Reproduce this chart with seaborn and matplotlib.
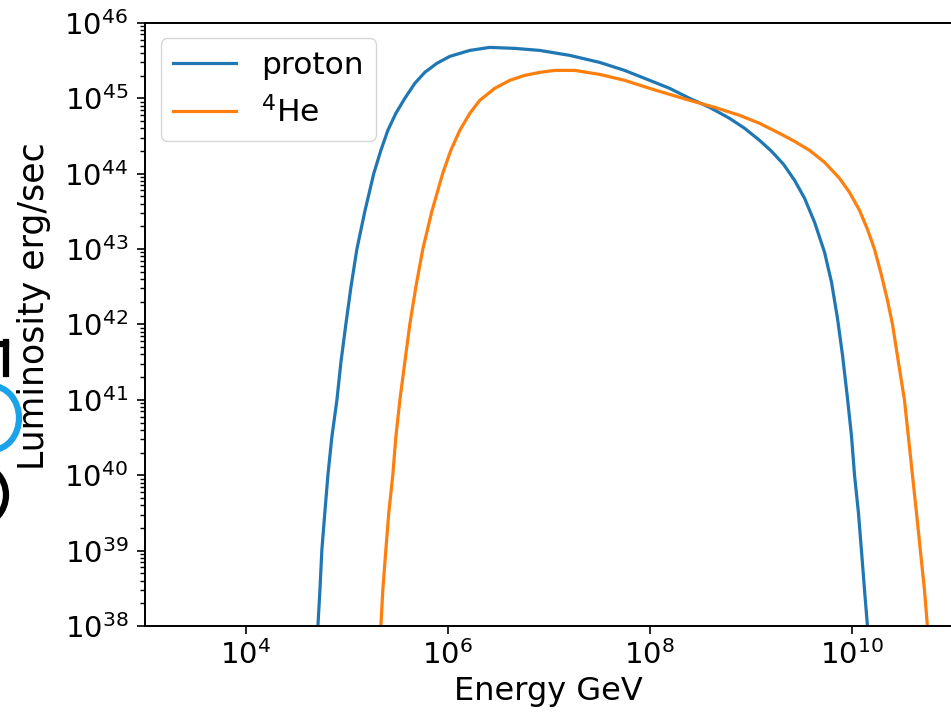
import numpy as np
import pandas as pd
import matplotlib
matplotlib.use("Agg")
import matplotlib.pyplot as plt
from matplotlib.ticker import LogLocator, NullLocator, FixedLocator
from matplotlib.patches import Ellipse
from matplotlib.lines import Line2D
import seaborn as sns

# ---- data (log10 of energy [GeV] and luminosity [erg/s]) ----
proton_logE = [4.703, 4.713, 4.733, 4.752, 4.782, 4.812, 4.851, 4.901, 4.941, 4.990,
               5.040, 5.099, 5.178, 5.267, 5.337, 5.406, 5.485, 5.574, 5.673, 5.772,
               5.891, 6.020, 6.218, 6.416, 6.663, 6.911, 7.208, 7.505, 7.752, 8.000,
               8.198, 8.396, 8.594, 8.792, 8.941, 9.089, 9.208, 9.327, 9.436, 9.535,
               9.634, 9.733, 9.802, 9.861, 9.911, 9.960, 10.000, 10.030, 10.069, 10.099,
               10.129, 10.158, 10.178]
proton_logL = [37.284, 38.000, 38.477, 39.007, 39.511, 40.001, 40.505, 40.995, 41.499, 42.003,
               42.493, 42.997, 43.500, 44.004, 44.309, 44.574, 44.799, 44.998, 45.197, 45.343,
               45.462, 45.555, 45.634, 45.674, 45.661, 45.634, 45.568, 45.475, 45.369, 45.237,
               45.131, 44.998, 44.879, 44.733, 44.601, 44.441, 44.296, 44.123, 43.911, 43.673,
               43.355, 42.957, 42.559, 42.082, 41.592, 41.022, 40.518, 40.001, 39.498, 38.994,
               38.477, 38.000, 37.284]

helium_logE = [5.327, 5.337, 5.356, 5.386, 5.416, 5.455, 5.485, 5.525, 5.574, 5.624,
               5.683, 5.752, 5.842, 5.950, 6.030, 6.119, 6.218, 6.317, 6.465, 6.614,
               6.762, 6.911, 7.059, 7.257, 7.505, 7.752, 8.000, 8.198, 8.396, 8.644,
               8.891, 9.089, 9.287, 9.436, 9.584, 9.733, 9.881, 9.980, 10.079, 10.158,
               10.228, 10.297, 10.356, 10.406, 10.465, 10.525, 10.564, 10.604, 10.644, 10.683,
               10.723, 10.752, 10.772]
helium_logL = [37.284, 38.000, 38.477, 39.007, 39.511, 40.001, 40.505, 40.995, 41.499, 42.003,
               42.493, 42.997, 43.500, 44.004, 44.309, 44.574, 44.799, 44.972, 45.131, 45.237,
               45.303, 45.343, 45.369, 45.369, 45.316, 45.237, 45.131, 45.051, 44.972, 44.879,
               44.773, 44.667, 44.534, 44.428, 44.309, 44.150, 43.938, 43.752, 43.514, 43.262,
               42.997, 42.652, 42.321, 42.003, 41.499, 40.995, 40.505, 40.001, 39.498, 38.994,
               38.477, 38.000, 37.284]

series_names = ["proton", "$^{4}$He"]
series_colors = ["#1f77b4", "#ff7f0e"]

x_ticks = [1e4, 1e6, 1e8, 1e10]
y_ticks = [10.0 ** k for k in range(38, 47)]
x_limits = (1e3, 1e11)
y_limits = (1e38, 1e46)

# ---- build table ----
df = pd.concat([
    pd.DataFrame({"E": 10.0 ** np.array(proton_logE), "L": 10.0 ** np.array(proton_logL),
                  "series": series_names[0]}),
    pd.DataFrame({"E": 10.0 ** np.array(helium_logE), "L": 10.0 ** np.array(helium_logL),
                  "series": series_names[1]}),
], ignore_index=True)

plt.rcParams.update({
    "font.family": ["DejaVu Sans"],
    "font.size": 21,
    "axes.linewidth": 1.4,
    "xtick.major.size": 6, "ytick.major.size": 6,
    "ytick.minor.size": 3.5, "xtick.minor.size": 3.5,
    "xtick.major.width": 1.2, "ytick.major.width": 1.2,
    "ytick.minor.width": 1.0,
    "xtick.major.pad": 4.5, "ytick.major.pad": 6,
})

fig = plt.figure(figsize=(9.51, 7.13), dpi=100)
ax = fig.add_axes([0.1525, 0.122, 0.849, 0.846])

sns.lineplot(data=df, x="E", y="L", hue="series", hue_order=series_names,
             palette=series_colors, estimator=None, sort=False, linewidth=2.3, ax=ax)

ax.set_xscale("log")
ax.set_yscale("log")
ax.set_xlim(*x_limits)
ax.set_ylim(*y_limits)
ax.xaxis.set_major_locator(FixedLocator(x_ticks))
ax.xaxis.set_minor_locator(NullLocator())
ax.yaxis.set_major_locator(FixedLocator(y_ticks))
ax.yaxis.set_minor_locator(LogLocator(base=10, subs=np.arange(2, 10), numticks=100))
ax.tick_params(axis="both", which="major", labelsize=21)

ax.set_xlabel("Energy GeV", fontsize=23)
ax.set_ylabel("Luminosity erg/sec", fontsize=25)
ax.yaxis.set_label_coords(-0.117, 0.53)

leg = ax.legend(loc="upper left", fontsize=22.5, handlelength=2.0, frameon=True)
leg.set_title(None)

# partial decorative shapes cut by the left border in the reference
W, H = 951.0, 713.0
fig.patches.append(Ellipse((-8 / W, 1 - 418 / H), 54 / W, 64 / H, transform=fig.transFigure,
                           fill=False, edgecolor="#1aa3e8", linewidth=4.5))
fig.patches.append(Ellipse((-22 / W, 1 - 495 / H), 56 / W, 60 / H, transform=fig.transFigure,
                           fill=False, edgecolor="black", linewidth=4.5))
fig.lines.append(Line2D([6 / W, 6 / W], [1 - 342 / H, 1 - 374 / H], transform=fig.transFigure,
                        color="black", linewidth=4.5))
fig.lines.append(Line2D([0, 6 / W], [1 - 344 / H, 1 - 344 / H], transform=fig.transFigure,
                        color="black", linewidth=4.5))

fig.savefig("out.png", dpi=100)
